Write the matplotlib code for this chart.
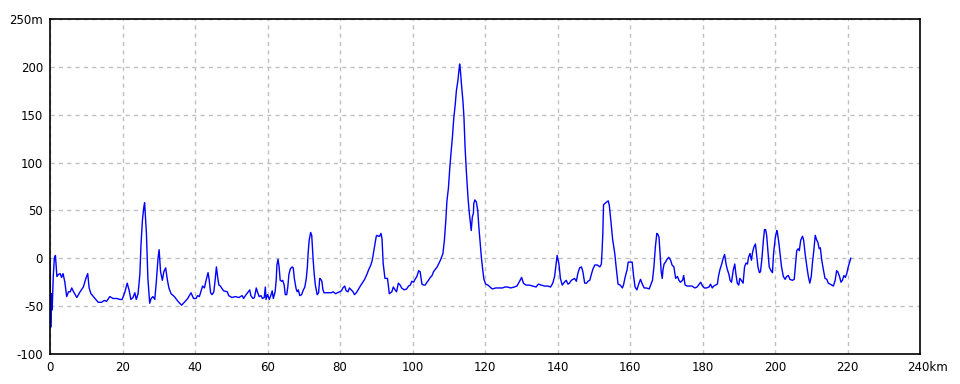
import matplotlib

matplotlib.use("Agg")
import matplotlib.pyplot as plt  # noqa: E402
import matplotlib.transforms as mtransforms  # noqa: E402
import numpy as np  # noqa: E402

LINE = "#0000FF"
GRID = "#C0C0C0"
INK = "#000000"

# distance along the route (km) and elevation (m)
dist_km = [
    0.0, 0.2, 0.4, 0.6, 0.9, 1.2, 1.5, 1.9, 2.3, 2.8, 3.2, 3.6, 4.1, 4.6, 5.1, 5.6, 6.0, 6.5,
    7.4, 8.3, 9.2, 9.9, 10.4, 10.8, 11.3, 12.4, 13.3, 14.2, 15.0, 15.6, 16.5, 17.4, 18.4, 19.3,
    19.9, 20.6, 21.3, 21.8, 22.3, 22.9, 23.4, 23.8, 24.3, 24.8, 25.1, 25.5, 25.9, 26.1, 26.6,
    27.0, 27.5, 27.9, 28.4, 28.9, 29.3, 29.8, 30.1, 30.5, 31.0, 31.4, 31.9, 32.4, 32.8, 33.4,
    34.3, 35.3, 36.3, 37.3, 38.0, 38.9, 39.6, 40.3, 40.7, 41.2, 41.6, 42.1, 42.6, 43.0, 43.6,
    43.9, 44.3, 44.7, 45.2, 45.6, 45.9, 46.3, 46.6, 47.0, 47.5, 47.9, 48.9, 49.3, 50.2, 51.1,
    52.1, 53.0, 53.4, 53.9, 54.5, 55.1, 55.4, 56.0, 56.4, 56.9, 57.3, 57.7, 58.2, 58.6, 59.1,
    59.4, 59.6, 60.0, 60.5, 60.9, 61.3, 61.6, 62.1, 62.4, 62.6, 62.9, 63.2, 63.5, 63.9, 64.2,
    64.6, 64.9, 65.3, 65.6, 65.9, 66.3, 66.8, 67.1, 67.4, 67.9, 68.2, 68.5, 68.9, 69.4, 69.9,
    70.3, 70.7, 71.0, 71.2, 71.5, 71.9, 72.2, 72.6, 72.9, 73.2, 73.7, 74.1, 74.4, 74.7, 75.0,
    75.3, 75.6, 76.3, 77.0, 77.6, 78.1, 78.8, 79.3, 79.9, 80.4, 80.8, 81.3, 81.7, 82.2, 82.6,
    83.1, 83.6, 84.0, 84.5, 85.0, 85.6, 86.3, 86.8, 87.4, 87.9, 88.5, 88.9, 89.3, 89.7, 90.0,
    90.2, 90.6, 90.9, 91.3, 91.6, 91.9, 92.4, 93.1, 93.6, 94.3, 94.7, 95.2, 95.6, 96.1, 96.6,
    97.0, 97.7, 98.4, 98.9, 99.4, 99.8, 100.3, 100.7, 101.2, 101.7, 102.1, 102.6, 103.1, 103.5,
    104.0, 104.4, 104.9, 105.4, 105.8, 106.8, 107.7, 108.4, 108.8, 109.2, 109.5, 109.9, 110.3,
    110.6, 111.0, 111.4, 111.8, 112.1, 112.5, 112.8, 113.0, 113.2, 113.5, 113.9, 114.2, 114.5,
    114.9, 115.3, 115.6, 115.9, 116.2, 116.5, 116.8, 116.9, 117.2, 117.6, 118.0, 118.3, 118.6,
    119.0, 119.4, 119.7, 120.2, 120.8, 121.4, 122.0, 123.0, 123.9, 124.8, 125.5, 126.2, 127.1,
    128.1, 128.8, 129.4, 130.1, 130.6, 131.3, 132.2, 133.1, 134.1, 134.7, 135.5, 136.4, 137.3,
    138.1, 138.7, 139.2, 139.6, 139.9, 140.4, 140.8, 141.3, 141.9, 142.4, 142.9, 143.3, 143.8,
    144.3, 144.7, 145.2, 145.6, 146.1, 146.6, 147.0, 147.5, 148.0, 148.4, 148.9, 149.4, 149.8,
    150.3, 151.0, 151.7, 152.1, 152.3, 152.5, 152.7, 153.3, 154.0, 154.3, 154.7, 155.2, 155.8,
    156.2, 156.7, 157.3, 157.9, 158.2, 158.7, 159.2, 159.5, 160.1, 160.6, 161.0, 161.4, 161.9,
    162.4, 162.9, 163.4, 163.9, 164.5, 165.3, 165.7, 166.2, 166.6, 167.0, 167.4, 167.7, 168.0,
    168.3, 168.6, 168.9, 169.1, 169.4, 169.8, 170.2, 170.7, 171.2, 171.6, 172.1, 172.4, 172.6,
    173.1, 173.5, 173.9, 174.5, 174.8, 175.2, 175.8, 176.5, 177.1, 177.9, 178.5, 179.1, 179.5,
    180.0, 180.5, 181.1, 181.8, 182.2, 182.7, 183.1, 183.6, 184.1, 184.4, 184.8, 185.3, 185.7,
    186.1, 186.5, 186.8, 187.3, 187.6, 188.0, 188.5, 188.9, 189.2, 189.6, 190.0, 190.3, 190.7,
    191.2, 191.6, 192.0, 192.4, 192.7, 193.1, 193.5, 193.8, 194.2, 194.6, 194.9, 195.3, 195.7,
    196.0, 196.4, 196.8, 197.1, 197.4, 197.7, 198.1, 198.4, 198.9, 199.3, 199.6, 200.1, 200.5,
    200.7, 201.1, 201.5, 201.8, 202.3, 202.8, 203.2, 203.7, 204.1, 204.8, 205.3, 205.6, 206.0,
    206.4, 206.7, 207.1, 207.6, 207.9, 208.3, 208.8, 209.2, 209.6, 210.0, 210.3, 210.7, 211.1,
    211.5, 211.8, 212.2, 212.5, 212.9, 213.4, 213.8, 214.3, 214.7, 215.2, 215.7, 216.1, 216.6,
    217.0, 217.3, 217.8, 218.2, 218.6, 219.0, 219.4, 219.8, 220.2, 220.6, 220.9,
]
elev_m = [
    0, -72, -37, -54, -19, 0, 3, -19, -17, -16, -20, -16, -25, -40, -35, -35, -31, -35,
    -41, -35, -30, -21, -16, -31, -37, -42, -46, -46, -44, -45, -40, -42, -42, -43,
    -43, -36, -26, -33, -43, -41, -36, -43, -37, -16, 14, 40, 54, 58, 26,
    -21, -47, -42, -40, -43, -26, 0, 9, -14, -23, -14, -10, -23, -31, -37,
    -40, -45, -49, -45, -42, -36, -42, -42, -39, -40, -35, -29, -31, -24, -15,
    -22, -36, -38, -35, -21, -9, -21, -28, -29, -32, -34, -35, -39, -41, -40,
    -41, -39, -42, -39, -36, -33, -39, -42, -41, -31, -36, -40, -39, -42, -41,
    -30, -43, -38, -43, -39, -34, -42, -35, -23, -7, -1, -9, -23, -24, -23,
    -28, -38, -38, -30, -17, -11, -9, -10, -21, -32, -35, -33, -39, -38, -33,
    -30, -21, -9, 5, 19, 27, 24, -2, -17, -28, -38, -36, -21, -22, -24,
    -33, -36, -36, -36, -36, -35, -37, -36, -35, -34, -31, -29, -34, -35, -31,
    -33, -35, -38, -36, -33, -29, -25, -22, -17, -12, -7, -2, 7, 16, 23,
    24, 23, 23, 26, 20, -5, -21, -21, -37, -35, -30, -33, -35, -26, -28,
    -31, -33, -32, -29, -28, -24, -25, -22, -19, -13, -14, -27, -28, -28,
    -25, -23, -20, -18, -14, -9, -2, 5, 19, 40, 60, 73, 95,
    109, 126, 147, 161, 175, 185, 196, 203, 197, 182, 165, 147, 116,
    88, 64, 50, 40, 29, 43, 47, 57, 61, 59, 50, 33, 19,
    1, -13, -22, -27, -28, -30, -32, -31, -31, -31, -30, -30, -31,
    -30, -29, -25, -20, -26, -28, -28, -29, -30, -27, -28, -29, -29,
    -30, -26, -19, -6, 3, -6, -21, -28, -25, -23, -27, -26, -23,
    -22, -21, -24, -16, -10, -9, -14, -26, -26, -24, -23, -16, -11,
    -7, -7, -9, -6, 8, 26, 56, 58, 60, 55, 40, 20, 5,
    -10, -27, -28, -31, -28, -19, -12, -4, -4, -4, -19, -30, -33,
    -27, -22, -27, -31, -31, -32, -28, -23, -9, 12, 26, 25, 22,
    5, -14, -21, -12, -6, -4, -1, 1, -2, -7, -9, -16, -21,
    -19, -23, -25, -23, -18, -28, -29, -29, -29, -31, -30, -27, -25,
    -29, -31, -31, -30, -27, -31, -29, -28, -27, -19, -12, -6, 0,
    4, -6, -11, -17, -23, -25, -12, -6, -16, -26, -28, -21, -23,
    -26, -9, -5, -6, 1, 5, -2, 6, 12, 15, 5, -9, -15,
    -14, 0, 19, 30, 30, 24, 5, -9, -13, -15, 5, 22, 29,
    26, 15, 1, -9, -19, -22, -19, -18, -22, -23, -22, -9, 8,
    10, 8, 19, 23, 19, 5, -9, -19, -26, -19, -6, 8, 24,
    19, 17, 10, 11, -2, -13, -21, -22, -26, -27, -28, -29, -23,
    -13, -14, -19, -25, -23, -18, -20, -16, -9, -4, 0,
]

x_ticks = list(range(0, 241, 20))
x_labels = [str(v) for v in x_ticks[:-1]] + ["240km"]
y_ticks = list(range(-100, 251, 50))
y_labels = [str(v) for v in y_ticks[:-1]] + ["250m"]

W, H = 960, 384
fig = plt.figure(figsize=(W / 100, H / 100), dpi=100)
ax = fig.add_axes([50 / W, 30 / H, 870 / W, 335 / H])

ax.plot(np.array(dist_km), np.array(elev_m), color=LINE, linewidth=1.0)

ax.set_xlim(0, 240)
ax.set_ylim(-100, 250)
ax.set_xticks(x_ticks, x_labels)
ax.set_yticks(y_ticks, y_labels)
ax.tick_params(length=0, labelsize=8.5, colors=INK, pad=5)
ax.grid(True, color=GRID, linestyle=(0, (3, 3)), linewidth=1.0)
ax.set_axisbelow(True)
for side in ax.spines.values():
    side.set_color(INK)
    side.set_linewidth(1.2)

# the unit sits after the last number, keep "240" centred on its tick
last = ax.get_xticklabels()[-1]
last.set_horizontalalignment("left")
last.set_transform(last.get_transform() + mtransforms.ScaledTranslation(-9 / 72, 0, fig.dpi_scale_trans))

fig.savefig("out.png", dpi=100, facecolor="white")
plt.close(fig)
